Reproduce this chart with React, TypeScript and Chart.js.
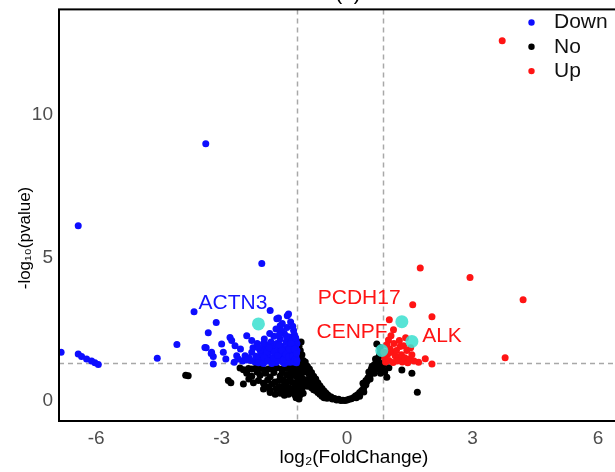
import React, { useEffect, useRef } from "react";
import { Chart, registerables } from "chart.js";

Chart.register(...registerables);

type P = [number, number];

const categories = ["Down", "No", "Up"];
const categoryColors = ["#0d0dff", "#000000", "#ff1414"];
const xTickValues = [-6, -3, 0, 3, 6];
const yTickValues = [0, 5, 10];
const foldChangeCutoffs = [-1.2, 0.85];
const pvalueCutoff = 1.3;
const xTitle = "log\u2082(FoldChange)";
const yTitle = "-log\u2081\u2080(pvalue)";
const plotTitle = "(a)";

const downPoints: P[] = [
  [-6.84, 1.69], [-6.43, 6.12], [-6.43, 1.63], [-6.35, 1.54], [-6.23, 1.45], [-6.11, 1.38], [-6.03, 1.32], [-5.95, 1.26],
  [-4.54, 1.48], [-4.07, 1.96], [-3.66, 3.11], [-3.38, 8.99], [-2.04, 4.8], [-3.13, 2.73], [-3.32, 2.37], [-3.37, 1.85],
  [-3.25, 1.65], [-3.2, 1.54], [-3.2, 1.28], [-3.4, 1.86], [-3.24, 1.69],
  [-1.84, 3.15], [-1.64, 2.89], [-1.43, 2.97], [-1.4, 3.03], [-1.68, 2.86], [-1.6, 2.62], [-1.44, 2.56], [-1.28, 2.45],
  [-2.8, 2.21], [-2.76, 2.1], [-2.4, 2.27], [-2.28, 2.1], [-2.96, 1.69], [-2.68, 1.92], [-2.64, 1.57], [-2.44, 1.57], [-2.28, 1.69],
  [-2.2, 1.35], [-2.1, 1.45], [-2.05, 1.62], [-2.0, 1.8], [-1.95, 1.38], [-1.9, 1.95], [-1.88, 1.55], [-1.85, 1.72],
  [-1.82, 2.05], [-1.8, 1.4], [-1.78, 1.88], [-1.75, 2.25], [-1.72, 1.6], [-1.7, 1.33], [-1.68, 2.0], [-1.65, 1.78],
  [-1.62, 1.48], [-1.6, 2.15], [-1.58, 1.9], [-1.55, 1.36], [-1.53, 1.65], [-1.5, 2.35], [-1.5, 1.82], [-1.48, 1.52],
  [-1.46, 2.05], [-1.44, 1.42], [-1.42, 1.7], [-1.4, 1.95], [-1.38, 2.22], [-1.36, 1.34], [-1.35, 1.58], [-1.33, 1.85],
  [-1.32, 2.1], [-1.3, 1.45], [-1.28, 1.72], [-1.27, 1.98], [-1.26, 2.3], [-1.25, 1.38], [-1.24, 1.6], [-1.23, 1.85],
  [-1.22, 2.12], [-1.22, 1.5], [-1.21, 1.32], [-1.2, 1.75], [-1.2, 2.0],
  [-2.35, 1.5], [-2.25, 1.85], [-2.15, 2.0], [-2.12, 1.32], [-1.98, 2.15], [-1.92, 1.7], [-2.5, 1.38], [-2.55, 1.8],
  [-2.9, 1.45], [-3.0, 1.98], [-2.7, 1.34], [-1.58, 2.45], [-1.7, 2.5], [-1.55, 2.7], [-1.35, 2.75], [-1.3, 2.6],
  [-1.5, 1.3], [-1.8, 1.3], [-2.0, 1.3], [-1.65, 1.42], [-1.42, 1.35], [-1.3, 1.9],
  [-2.3, 1.4], [-2.18, 1.55], [-2.08, 1.75], [-1.98, 1.5], [-1.9, 1.38], [-1.86, 1.85], [-1.76, 1.5], [-1.74, 1.7],
  [-1.66, 1.58], [-1.62, 1.95], [-1.56, 1.75], [-1.52, 1.42], [-1.46, 1.62], [-1.4, 1.52], [-1.38, 1.8], [-1.34, 2.0],
  [-1.3, 1.55], [-1.28, 1.35], [-1.26, 1.8], [-1.24, 1.45], [-1.23, 2.2], [-1.21, 1.65], [-1.2, 1.4], [-1.45, 2.25],
  [-1.62, 2.3], [-1.85, 2.35], [-2.0, 2.0], [-2.12, 1.85], [-2.4, 1.42], [-2.6, 1.45],
];

const noPoints: P[] = [
  [-3.86, 0.88], [-3.8, 0.87], [-2.84, 0.7], [-2.78, 0.62], [-2.56, 1.14], [-2.48, 0.58],
  [-2.48, 1.08], [-2.36, 1.12], [-2.28, 1.1], [-2.18, 1.14], [-2.08, 1.12], [-1.98, 1.08], [-1.88, 1.1], [-1.78, 1.16],
  [-1.68, 1.15], [-1.56, 1.1], [-1.44, 1.12], [-1.34, 1.18], [-1.28, 1.08],
  [-2.4, 0.95], [-2.28, 0.85], [-2.15, 1.0], [-2.08, 0.88], [-1.95, 0.95], [-1.84, 0.82], [-1.75, 0.98], [-1.6, 0.86],
  [-1.55, 1.0], [-1.45, 0.9], [-1.36, 0.8], [-1.35, 0.98], [-1.26, 0.9],
  [-2.35, 0.75], [-2.24, 0.62], [-2.12, 0.7], [-2.0, 0.6], [-1.9, 0.72], [-1.8, 0.58], [-1.72, 0.65], [-1.62, 0.7],
  [-1.52, 0.72], [-1.5, 0.55], [-1.42, 0.66], [-1.3, 0.63],
  [-2.0, 0.4], [-1.92, 0.48], [-1.85, 0.38], [-1.7, 0.42], [-1.62, 0.48], [-1.55, 0.36], [-1.48, 0.35], [-1.4, 0.45],
  [-1.3, 0.4], [-1.25, 0.5],
  [-1.84, 0.28], [-1.72, 0.22], [-1.6, 0.25], [-1.5, 0.18], [-1.4, 0.22], [-1.32, 0.28], [-1.25, 0.2],
  [-1.22, 0.1], [-1.2, 0.3], [-1.22, 0.85], [-1.24, 1.2], [-1.2, 0.65],
  [-1.15, 1.9], [-1.1, 2.05], [-1.12, 1.75], [-1.08, 1.6], [-1.15, 1.45], [-1.1, 1.3], [-1.05, 1.4], [-1.0, 1.25],
  [-1.18, 1.2], [-1.12, 1.1], [-1.05, 1.15], [-1.18, 0.95], [-1.1, 0.9], [-1.02, 1.0], [-1.15, 0.7], [-1.05, 0.75],
  [-1.18, 0.5], [-1.1, 0.55], [-1.15, 0.35], [-1.08, 0.4], [-1.12, 0.2], [-1.05, 0.25], [-1.15, 0.05],
  [-1.0, 1.35], [-0.95, 1.2], [-0.98, 1.05], [-0.9, 1.1], [-0.92, 0.95], [-0.85, 0.98], [-0.88, 0.82], [-0.8, 0.85],
  [-0.82, 0.7], [-0.75, 0.75], [-0.78, 0.6], [-0.7, 0.62], [-0.72, 0.5], [-0.65, 0.52], [-0.68, 0.4], [-0.6, 0.42],
  [-0.62, 0.3], [-0.55, 0.33], [-0.58, 0.22], [-0.5, 0.25], [-0.52, 0.15], [-0.45, 0.18], [-0.42, 0.1], [-0.38, 0.12],
  [-0.35, 0.05], [-0.3, 0.07], [-0.25, 0.02], [-0.2, 0.04], [-0.15, 0.0], [-0.1, 0.01], [-0.05, 0.0], [0.0, 0.02], [0.05, 0.04],
  [-1.0, 0.6], [-0.95, 0.5], [-0.9, 0.55], [-0.85, 0.45], [-0.8, 0.38], [-0.75, 0.35], [-0.7, 0.28], [-0.65, 0.22],
  [-0.6, 0.15], [-0.9, 0.8], [-0.95, 0.72], [-0.55, 0.1], [-0.48, 0.08],
  [0.1, 0.06], [0.15, 0.1], [0.2, 0.16], [0.25, 0.2], [0.3, 0.28], [0.35, 0.35], [0.4, 0.45], [0.45, 0.55],
  [0.48, 0.68], [0.5, 0.8], [0.55, 0.9], [0.52, 1.0], [0.58, 1.1], [0.6, 1.2], [0.65, 1.25], [0.7, 1.3],
  [0.72, 1.4], [0.75, 1.5], [0.78, 1.6], [0.8, 1.7], [0.79, 1.86], [0.71, 1.98], [0.7, 1.15], [0.62, 1.05],
  [0.68, 1.45], [0.82, 1.3], [0.85, 1.2], [0.95, 0.81], [0.9, 1.0], [0.87, 1.05], [0.4, 0.3], [0.3, 0.15],
  [0.22, 0.1], [0.45, 0.7], [0.55, 0.75], [0.65, 0.95], [0.75, 1.1], [0.8, 0.95], [0.38, 0.6],
  [1.31, 1.07], [1.55, 0.95], [1.68, 0.29], [1.0, 1.15],
];

const upPoints: P[] = [
  [3.71, 12.59], [1.75, 4.64], [2.94, 4.31], [4.21, 3.53], [1.57, 3.35], [2.03, 2.93], [1.01, 2.83], [1.11, 2.48],
  [1.05, 2.27], [0.99, 2.12], [0.95, 1.95], [1.27, 1.89], [1.35, 1.92], [1.43, 1.75], [1.07, 1.69], [1.15, 1.57],
  [1.23, 1.48], [1.71, 1.34], [1.87, 1.46], [2.03, 1.28], [3.78, 1.5],
  [0.9, 1.5], [0.92, 1.35], [0.97, 1.62], [1.0, 1.4], [1.03, 1.8], [1.1, 1.33], [1.18, 1.75], [1.2, 1.38],
  [1.3, 1.6], [1.32, 1.35], [1.38, 1.5], [1.45, 1.32], [1.5, 1.45], [1.55, 1.6], [1.6, 1.38], [0.88, 1.7],
  [1.12, 2.0], [1.25, 2.1], [1.4, 2.2], [1.52, 1.85],
];

const geneNames = ["ACTN3", "PCDH17", "CENPF", "ALK"];
const genePoints: P[] = [[-2.12, 2.68], [1.31, 2.76], [0.83, 1.75], [1.55, 2.07]];
const geneLabelPos: P[] = [[-2.73, 3.39], [0.29, 3.57], [0.12, 2.38], [2.27, 2.24]];
const geneLabelColors = ["#1414ff", "#ff1414", "#ff1414", "#ff1414"];

const FONT = "'Liberation Sans', Arial, sans-serif";
const SHIFT = 8; // canvas is placed 8px above the page top

const toXY = (pts: P[]) => pts.map(([x, y]) => ({ x, y }));

const overlayPlugin = {
  id: "overlay",
  beforeDatasetsDraw(chart: any) {
    const { ctx, chartArea, scales } = chart;
    const { left, right, top, bottom } = chartArea;
    ctx.save();
    ctx.beginPath();
    ctx.rect(left, top, right - left, bottom - top);
    ctx.clip();
    ctx.strokeStyle = "#a8a8a8";
    ctx.lineWidth = 1.5;
    ctx.setLineDash([5, 4]);
    for (const v of foldChangeCutoffs) {
      const px = Math.round(scales.x.getPixelForValue(v)) + 0.5;
      ctx.beginPath();
      ctx.moveTo(px, top);
      ctx.lineTo(px, bottom);
      ctx.stroke();
    }
    const py = Math.round(scales.y.getPixelForValue(pvalueCutoff)) + 0.5;
    ctx.beginPath();
    ctx.moveTo(left, py);
    ctx.lineTo(right, py);
    ctx.stroke();
    ctx.restore();
  },
  afterDatasetsDraw(chart: any) {
    const { ctx, scales } = chart;
    ctx.save();
    ctx.font = `21px ${FONT}`;
    ctx.textAlign = "center";
    ctx.textBaseline = "middle";
    geneNames.forEach((name, i) => {
      ctx.fillStyle = geneLabelColors[i];
      ctx.fillText(name, scales.x.getPixelForValue(geneLabelPos[i][0]), scales.y.getPixelForValue(geneLabelPos[i][1]));
    });
    ctx.restore();
  },
  afterDraw(chart: any) {
    const { ctx, chartArea } = chart;
    const { left, right, top, bottom } = chartArea;
    ctx.save();
    ctx.strokeStyle = "#000";
    ctx.lineWidth = 2;
    ctx.strokeRect(left, top, right - left, bottom - top);
    ctx.fillStyle = "#000";
    ctx.font = `21px ${FONT}`;
    ctx.textAlign = "center";
    ctx.textBaseline = "alphabetic";
    ctx.fillText(plotTitle, 348, top - 9);
    ctx.font = `19px ${FONT}`;
    ctx.textBaseline = "middle";
    ctx.fillText(xTitle, 354, 458 + SHIFT);
    ctx.save();
    ctx.translate(25, 238 + SHIFT);
    ctx.rotate(-Math.PI / 2);
    ctx.font = `17px ${FONT}`;
    ctx.fillText(yTitle, 0, 0);
    ctx.restore();
    ctx.font = `21px ${FONT}`;
    ctx.textAlign = "left";
    categories.forEach((c, i) => {
      const cy = 22.5 + SHIFT + i * 24.3;
      ctx.fillStyle = categoryColors[i];
      ctx.beginPath();
      ctx.arc(531.5, cy, 3.2, 0, Math.PI * 2);
      ctx.fill();
      ctx.fillStyle = "#111";
      ctx.fillText(c, 554, cy);
    });
    ctx.restore();
  },
};

export default function App() {
  const ref = useRef<HTMLCanvasElement | null>(null);
  useEffect(() => {
    if (!ref.current) return;
    const pointBase = { pointRadius: 3.5, pointHoverRadius: 3.5, borderWidth: 0, pointBorderWidth: 0 };
    const chart = new Chart(ref.current, {
      type: "scatter",
      data: {
        datasets: [
          { label: "No", data: toXY(noPoints), backgroundColor: categoryColors[1], order: 3, ...pointBase },
          { label: "Down", data: toXY(downPoints), backgroundColor: categoryColors[0], order: 2, ...pointBase },
          { label: "Up", data: toXY(upPoints), backgroundColor: categoryColors[2], order: 1, ...pointBase },
          {
            label: "genes",
            data: toXY(genePoints),
            backgroundColor: "rgba(64,224,208,0.88)",
            pointRadius: 6.5,
            pointHoverRadius: 6.5,
            borderWidth: 0,
            order: 0,
          },
        ],
      },
      options: {
        animation: false,
        responsive: false,
        devicePixelRatio: 1,
        layout: { padding: { top: 9, right: 24, left: 0, bottom: 0 } },
        plugins: { legend: { display: false }, tooltip: { enabled: false } },
        scales: {
          x: {
            type: "linear",
            min: -6.89,
            max: 6.91,
            grid: { display: false, drawTicks: false },
            border: { display: false },
            ticks: { font: { family: FONT, size: 19 }, color: "#4d4d4d", padding: 6, autoSkip: false, maxRotation: 0 },
            afterBuildTicks: (s: any) => {
              s.ticks = xTickValues.map((v) => ({ value: v }));
            },
            afterFit: (s: any) => {
              s.height = 51;
            },
          },
          y: {
            type: "linear",
            min: -0.717,
            max: 13.69,
            grid: { display: false, drawTicks: false },
            border: { display: false },
            ticks: { font: { family: FONT, size: 19 }, color: "#4d4d4d", padding: 6, autoSkip: false },
            afterBuildTicks: (s: any) => {
              s.ticks = yTickValues.map((v) => ({ value: v }));
            },
            afterFit: (s: any) => {
              s.width = 59;
            },
          },
        },
      },
      plugins: [overlayPlugin],
    } as any);
    return () => chart.destroy();
  }, []);
  return (
    <div style={{ position: "fixed", left: 0, top: 0, width: 615, height: 472, overflow: "hidden", background: "#fff" }}>
      <canvas
        ref={ref}
        width={660}
        height={472 + SHIFT}
        style={{ position: "absolute", left: 0, top: -SHIFT, width: 660, height: 472 + SHIFT }}
      />
    </div>
  );
}
